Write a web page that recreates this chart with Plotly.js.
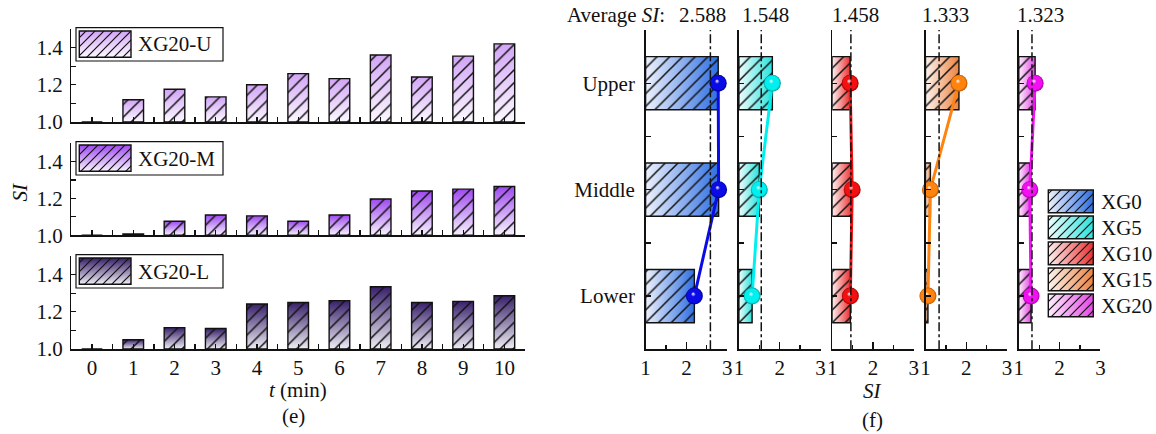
<!DOCTYPE html>
<html>
<head>
<meta charset="utf-8">
<script src="https://cdn.plot.ly/plotly-3.0.1.min.js"></script>
<style>
  html, body { margin: 0; padding: 0; background: #fff; }
  #chart { width: 1156px; height: 434px; }
</style>
</head>
<body>
<div id="chart"></div>
<script>
// ---- (e) segregation index of XG20 at three heights, 0-10 min ----
const minutes  = [0, 1, 2, 3, 4, 5, 6, 7, 8, 9, 10];
const siUpper  = [1.0, 1.12, 1.176, 1.135, 1.20, 1.26, 1.233, 1.36, 1.242, 1.354, 1.42];
const siMiddle = [1.0, 1.007, 1.076, 1.11, 1.105, 1.076, 1.11, 1.197, 1.24, 1.25, 1.264];
const siLower  = [1.0, 1.05, 1.115, 1.11, 1.242, 1.25, 1.26, 1.335, 1.25, 1.256, 1.286];
const heightNames = ['XG20-U', 'XG20-M', 'XG20-L'];

// ---- (f) SI by layer for each mix ----
const layers = ['Upper', 'Middle', 'Lower'];
const mixes  = ['XG0', 'XG5', 'XG10', 'XG15', 'XG20'];
const siXG0  = [2.78, 2.79, 2.195];
const siXG5  = [1.82, 1.50, 1.324];
const siXG10 = [1.44, 1.49, 1.445];
const siXG15 = [1.82, 1.12, 1.06];
const siXG20 = [1.40, 1.27, 1.30];
const averageSI = [2.588, 1.548, 1.458, 1.333, 1.323];

// ---- page geometry (pixels) ----
const W = 1156, H = 434;
const fx = p => p / W;
const fy = p => 1 - p / H;
const FONT = 'Liberation Serif, Times New Roman, serif';
const INK = '#111111';

const leftX = [71.4, 525];
const leftRows = [[29, 122], [143, 235.3], [256, 349]];
const rightStarts = [645.6, 738.9, 832.2, 925.5, 1018.8];
const rightW = 81.6;
const rightY = [30, 349.3];

// ---- styles ----
const eSeries = [siUpper, siMiddle, siLower];
const eTop = ['#d2a4f6', '#9f49f0', '#38206b'];
const eBottom = ['#fcf9ff', '#f8f3fe', '#efedf4'];
const fSeries = [siXG0, siXG5, siXG10, siXG15, siXG20];
const fBar  = ['#2f6fe2', '#2ae2dc', '#ec2f2f', '#ec8240', '#e646e6'];
const fBarLight = ['#eef2fc', '#effcfc', '#fdf0f0', '#fdf4ee', '#fdf0fd'];
const fLine = ['#0b0be8', '#00efef', '#f21010', '#ff830f', '#f210f2'];
const fDark = ['#00008a', '#009a9a', '#9a0000', '#b35400', '#9a009a'];

const hatch = { shape: '/', fgcolor: INK, bgcolor: 'rgba(0,0,0,0)', size: 9, solidity: 0.17, fillmode: 'replace' };
const layerY = layers.map((_, i) => layers.length - 1 - i);

const data = [];
const layout = {
  width: W, height: H,
  margin: { l: 0, r: 0, t: 0, b: 0 },
  paper_bgcolor: '#fff', plot_bgcolor: 'rgba(0,0,0,0)',
  barmode: 'overlay',
  showlegend: false,
  font: { family: FONT, size: 21, color: INK },
  shapes: [], annotations: []
};
const fills = []; // shape index -> svg paint server id

function axisKey(n) { return n === 1 ? '' : String(n); }

// ---- left panel: three stacked bar charts ----
eSeries.forEach((vals, k) => {
  const n = k + 1, xa = 'x' + axisKey(n), ya = 'y' + axisKey(n);
  const heights = vals.map(v => v - 1);
  data.push({
    type: 'bar', x: minutes, y: heights, base: 1, width: 0.5, xaxis: xa, yaxis: ya,
    marker: { color: eTop[k], line: { width: 0 } }, meta: 'gradE' + k, hoverinfo: 'skip'
  });
  data.push({
    type: 'bar', x: minutes, y: heights, base: 1, width: 0.5, xaxis: xa, yaxis: ya,
    marker: { color: 'rgba(0,0,0,0)', line: { color: INK, width: 1.4 }, pattern: hatch },
    customdata: vals, hovertemplate: 't = %{x} min<br>SI = %{customdata}<extra></extra>'
  });
  const [top, bottom] = leftRows[k];
  layout['xaxis' + axisKey(n)] = {
    domain: [fx(leftX[0]), fx(leftX[1])], anchor: ya, range: [-0.5, 10.5],
    tick0: 0, dtick: 1, ticks: 'inside', ticklen: 5, tickwidth: 1.3, tickcolor: INK,
    minor: { tick0: 0, dtick: 0.5, ticks: 'inside', ticklen: 5, tickwidth: 1.3, tickcolor: INK },
    showline: true, linewidth: 1.5, linecolor: INK, showgrid: false, zeroline: false,
    showticklabels: k === 2, ticklabelstandoff: -1, fixedrange: true
  };
  layout['yaxis' + axisKey(n)] = {
    domain: [fy(bottom), fy(top)], anchor: xa, range: [1, 1.5],
    tick0: 1, dtick: 0.2, tickformat: '.1f', ticks: 'inside', ticklen: 5, tickwidth: 1.3, tickcolor: INK,
    minor: { tick0: 1, dtick: 0.1, ticks: 'inside', ticklen: 5, tickwidth: 1.3, tickcolor: INK },
    showline: true, linewidth: 1.5, linecolor: INK, showgrid: false, zeroline: false,
    ticklabelstandoff: 3, fixedrange: true
  };
  // legend box with swatch
  const bt = top - 1.3;
  layout.shapes.push({ type: 'rect', xref: 'paper', yref: 'paper', x0: fx(76), x1: fx(223), y0: fy(bt + 33.3), y1: fy(bt),
    fillcolor: '#fff', line: { color: INK, width: 1.2 }, layer: 'above' });
  fills.push([layout.shapes.length, 'gradE' + k]);
  layout.shapes.push({ type: 'rect', xref: 'paper', yref: 'paper', x0: fx(79.3), x1: fx(131), y0: fy(bt + 29.6), y1: fy(bt + 3.3),
    fillcolor: eTop[k], line: { width: 0 }, layer: 'above' });
  fills.push([layout.shapes.length, 'hatchLines']);
  layout.shapes.push({ type: 'rect', xref: 'paper', yref: 'paper', x0: fx(79.3), x1: fx(131), y0: fy(bt + 29.6), y1: fy(bt + 3.3),
    fillcolor: '#000', line: { color: INK, width: 1.4 }, layer: 'above' });
  layout.annotations.push({ xref: 'paper', yref: 'paper', x: fx(136), y: fy(bt + 16.8), xanchor: 'left', yanchor: 'middle',
    text: heightNames[k], showarrow: false, font: { size: 21 } });
});

layout.annotations.push({ xref: 'paper', yref: 'paper', x: fx(19.5), y: fy(192), textangle: -90,
  text: '<i>SI</i>', showarrow: false, xanchor: 'center', yanchor: 'middle', font: { size: 21 } });
layout.annotations.push({ xref: 'paper', yref: 'paper', x: fx(298), y: fy(390), text: '<i>t</i> (min)',
  showarrow: false, xanchor: 'center', yanchor: 'middle', font: { size: 21 } });
layout.annotations.push({ xref: 'paper', yref: 'paper', x: fx(293), y: fy(416), text: '(e)',
  showarrow: false, xanchor: 'center', yanchor: 'middle', font: { size: 21 } });

// ---- right panel: five horizontal bar + profile plots ----
const avgCenters = [702, 765.3, 855, 945.8, 1040.2];
fSeries.forEach((vals, k) => {
  const n = k + 4, xa = 'x' + n, ya = 'y' + n;
  const lengths = vals.map(v => v - 1);
  data.push({
    type: 'bar', orientation: 'h', y: layerY, x: lengths, base: 1, width: 0.5, xaxis: xa, yaxis: ya,
    marker: { color: fBar[k], line: { width: 0 } }, meta: 'gradF' + k, hoverinfo: 'skip'
  });
  data.push({
    type: 'bar', orientation: 'h', y: layerY, x: lengths, base: 1, width: 0.5, xaxis: xa, yaxis: ya,
    marker: { color: 'rgba(0,0,0,0)', line: { color: INK, width: 1.4 }, pattern: hatch }, hoverinfo: 'skip'
  });
  data.push({
    type: 'scatter', mode: 'lines+markers', x: vals, y: layerY, xaxis: xa, yaxis: ya,
    line: { color: fLine[k], width: 3 }, marker: { size: 17, color: fLine[k], line: { width: 0 } },
    cliponaxis: false, meta: 'ball' + k, name: mixes[k], text: layers,
    hovertemplate: '%{text}: %{x}<extra>' + mixes[k] + '</extra>'
  });
  const x0 = rightStarts[k];
  layout['xaxis' + n] = {
    domain: [fx(x0), fx(x0 + rightW)], anchor: ya, range: [1, 3],
    tick0: 1, dtick: 1, ticks: 'inside', ticklen: 7, tickwidth: 1.3, tickcolor: INK,
    minor: { tick0: 1, dtick: 0.5, ticks: 'inside', ticklen: 4, tickwidth: 1.3, tickcolor: INK },
    showline: true, linewidth: 1.5, linecolor: INK, showgrid: false, zeroline: false,
    ticklabelstandoff: -1, fixedrange: true
  };
  layout['yaxis' + n] = {
    domain: [fy(rightY[1]), fy(rightY[0])], anchor: xa, range: [-0.5, 2.5],
    tickmode: 'array', tickvals: [-0.5, 0, 0.5, 1, 1.5, 2, 2.5],
    ticktext: ['', layers[2], '', layers[1], '', layers[0], ''],
    ticks: 'inside', ticklen: 5, tickwidth: 1.3, tickcolor: INK,
    showline: true, linewidth: 1.5, linecolor: INK, showgrid: false, zeroline: false,
    showticklabels: k === 0, ticklabelstandoff: 5, fixedrange: true
  };
  layout.shapes.push({ type: 'line', xref: xa, yref: ya + ' domain', x0: averageSI[k], x1: averageSI[k], y0: 0, y1: 1,
    line: { color: INK, width: 1.5, dash: 'dashdot' }, layer: 'above' });
  layout.annotations.push({ xref: 'paper', yref: 'paper', x: fx(avgCenters[k]), y: fy(15),
    text: averageSI[k].toFixed(3), showarrow: false, xanchor: 'center', yanchor: 'middle', font: { size: 21 } });
  // legend row
  const rt = 190 + 26 * k;
  fills.push([layout.shapes.length, 'gradF' + k]);
  layout.shapes.push({ type: 'rect', xref: 'paper', yref: 'paper', x0: fx(1048.3), x1: fx(1093.3), y0: fy(rt + 22.7), y1: fy(rt),
    fillcolor: fBar[k], line: { width: 0 }, layer: 'above' });
  fills.push([layout.shapes.length, 'hatchLines']);
  layout.shapes.push({ type: 'rect', xref: 'paper', yref: 'paper', x0: fx(1048.3), x1: fx(1093.3), y0: fy(rt + 22.7), y1: fy(rt),
    fillcolor: '#000', line: { color: INK, width: 1.4 }, layer: 'above' });
  layout.annotations.push({ xref: 'paper', yref: 'paper', x: fx(1098.5), y: fy(rt + 12), text: mixes[k],
    showarrow: false, xanchor: 'left', yanchor: 'middle', font: { size: 21 } });
});

layout.annotations.push({ xref: 'paper', yref: 'paper', x: fx(667), y: fy(15), text: 'Average <i>SI</i>:',
  showarrow: false, xanchor: 'right', yanchor: 'middle', font: { size: 21 } });
layout.annotations.push({ xref: 'paper', yref: 'paper', x: fx(872), y: fy(391), text: '<i>SI</i>',
  showarrow: false, xanchor: 'center', yanchor: 'middle', font: { size: 21 } });
layout.annotations.push({ xref: 'paper', yref: 'paper', x: fx(872), y: fy(420), text: '(f)',
  showarrow: false, xanchor: 'center', yanchor: 'middle', font: { size: 21 } });

// ---- svg paint servers: bar gradients, hatching, shaded balls ----
const NS = 'http://www.w3.org/2000/svg';
function el(tag, attrs, parent) {
  const e = document.createElementNS(NS, tag);
  for (const a in attrs) e.setAttribute(a, attrs[a]);
  parent.appendChild(e);
  return e;
}
function addPaint(gd) {
  const defs = gd.querySelector('svg.main-svg defs');
  eTop.forEach((c, k) => {
    const g = el('linearGradient', { id: 'gradE' + k, x1: 0, y1: 0, x2: 0, y2: 1 }, defs);
    el('stop', { offset: 0, 'stop-color': c }, g);
    el('stop', { offset: 1, 'stop-color': eBottom[k] }, g);
  });
  fBar.forEach((c, k) => {
    const g = el('linearGradient', { id: 'gradF' + k, x1: 0, y1: 0, x2: 1, y2: 0 }, defs);
    el('stop', { offset: 0, 'stop-color': fBarLight[k] }, g);
    el('stop', { offset: 1, 'stop-color': c }, g);
  });
  fLine.forEach((c, k) => {
    const g = el('radialGradient', { id: 'ball' + k, cx: 0.5, cy: 0.5, r: 0.5, fx: 0.42, fy: 0.36 }, defs);
    el('stop', { offset: 0, 'stop-color': '#ffffff' }, g);
    el('stop', { offset: 0.28, 'stop-color': c }, g);
    el('stop', { offset: 0.8, 'stop-color': c }, g);
    el('stop', { offset: 1, 'stop-color': fDark[k] }, g);
  });
  const p = el('pattern', { id: 'hatchLines', patternUnits: 'userSpaceOnUse', width: 9, height: 9 }, defs);
  el('path', { d: 'M-2.25,2.25l4.5,-4.5M0,9L9,0M6.75,11.25l4.5,-4.5', stroke: INK, 'stroke-width': 1.2, fill: 'none' }, p);

  gd.querySelectorAll('g.trace').forEach(g => {
    const cd = g.__data__;
    const tr = cd && cd[0] && cd[0].trace;
    if (!tr || !tr.meta) return;
    const sel = tr.type === 'bar' ? 'g.point path' : 'path.point';
    g.querySelectorAll(sel).forEach(path => { path.style.fill = 'url(#' + tr.meta + ')'; });
  });
  fills.forEach(([idx, id]) => {
    gd.querySelectorAll('.shapelayer path[data-index="' + idx + '"]').forEach(path => {
      path.style.fill = 'url(#' + id + ')';
      path.style.fillOpacity = 1;
    });
  });
}

Plotly.newPlot('chart', data, layout, { staticPlot: true, displayModeBar: false })
  .then(addPaint);
</script>
</body>
</html>
